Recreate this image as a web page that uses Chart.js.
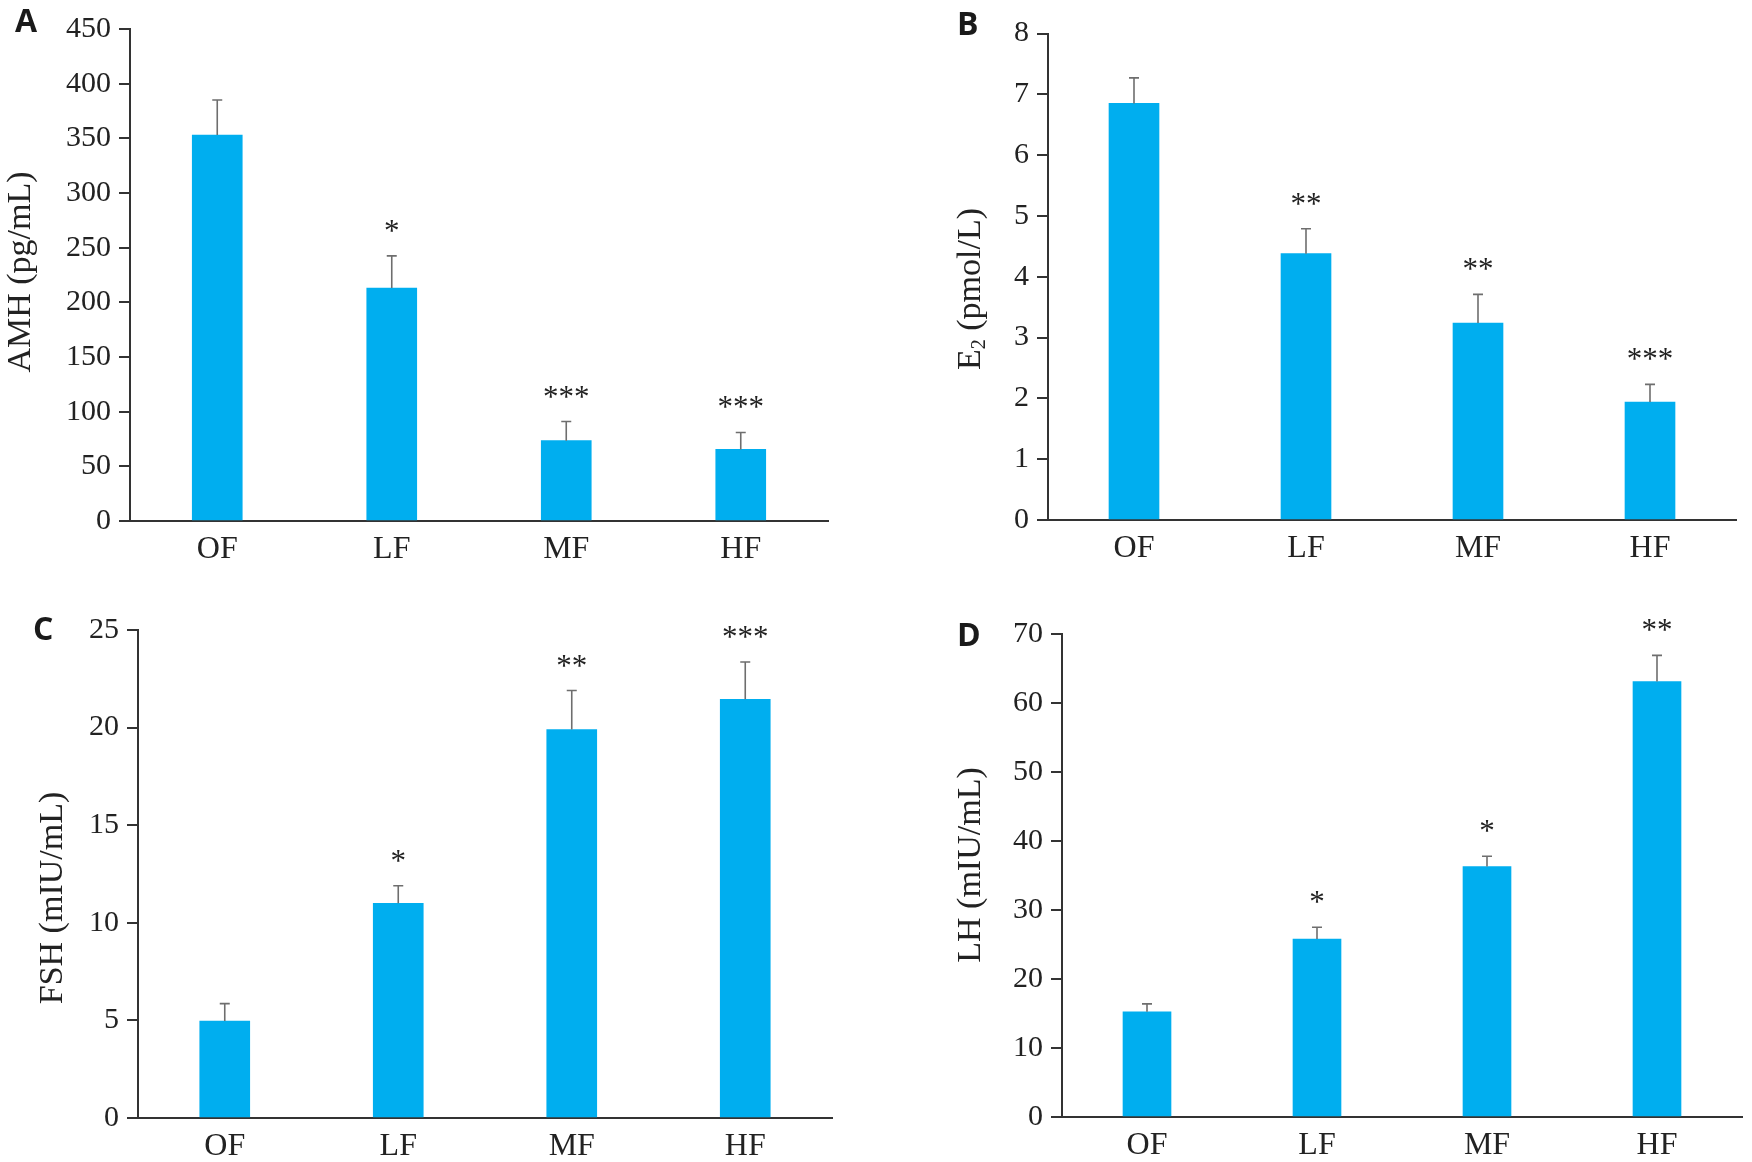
<!DOCTYPE html>
<html>
<head>
<meta charset="utf-8">
<script src="https://cdn.jsdelivr.net/npm/chart.js@4.4.1/dist/chart.umd.min.js"></script>
<style>
  body { margin: 0; background: #fff; width: 1752px; height: 1162px; position: relative; overflow: hidden; }
  .panel { position: absolute; width: 876px; height: 581px; }
  .letter { position: absolute; font-family: "Open Sans", sans-serif; font-weight: 700; font-size: 32px; line-height: 1; color: #1a1a1a; }
</style>
</head>
<body>
<div class="panel" style="left:0;top:0"><canvas id="chartA" width="876" height="581"></canvas></div>
<div class="panel" style="left:876px;top:0"><canvas id="chartB" width="876" height="581"></canvas></div>
<div class="panel" style="left:0;top:581px"><canvas id="chartC" width="876" height="581"></canvas></div>
<div class="panel" style="left:876px;top:581px"><canvas id="chartD" width="876" height="581"></canvas></div>
<div class="letter" style="left:15px;top:4px">A</div>
<div class="letter" style="left:957px;top:7px">B</div>
<div class="letter" style="left:33px;top:612px">C</div>
<div class="letter" style="left:957px;top:618px">D</div>
<script>
// Groups
const groups = ['OF', 'LF', 'MF', 'HF'];

// AMH (pg/mL)
const amhMean = [353, 213, 73.5, 65.5];
const amhUpper = [385, 242.5, 91, 81];
const amhStars = ['', '*', '***', '***'];
const amhRange = [0, 450, 50];

// E2 (pmol/L)
const e2Mean = [6.85, 4.38, 3.24, 1.94];
const e2Upper = [7.27, 4.79, 3.71, 2.23];
const e2Stars = ['', '**', '**', '***'];
const e2Range = [0, 8, 1];

// FSH (mIU/mL)
const fshMean = [4.97, 11.0, 19.9, 21.45];
const fshUpper = [5.86, 11.9, 21.9, 23.36];
const fshStars = ['', '*', '**', '***'];
const fshRange = [0, 25, 5];

// LH (mIU/mL)
const lhMean = [15.25, 25.8, 36.3, 63.1];
const lhUpper = [16.4, 27.5, 37.8, 66.9];
const lhStars = ['', '*', '*', '**'];
const lhRange = [0, 70, 10];

const SERIF = '"Liberation Serif", "Times New Roman", serif';
const BAR_COLOR = '#00AEEF';
const AXIS_COLOR = '#333333';

// upper error whiskers and significance stars
const errorBarPlugin = {
    id: 'errorBars',
    afterDatasetsDraw(chart, args, opts) {
        const ctx = chart.ctx;
        const yScale = chart.scales.y;
        const meta = chart.getDatasetMeta(0);
        ctx.save();
        meta.data.forEach((bar, i) => {
            const top = yScale.getPixelForValue(opts.upper[i]);
            ctx.strokeStyle = '#6e6e6e';
            ctx.lineWidth = 1.6;
            ctx.beginPath();
            ctx.moveTo(bar.x, bar.y);
            ctx.lineTo(bar.x, top);
            ctx.moveTo(bar.x - 5, top);
            ctx.lineTo(bar.x + 5, top);
            ctx.stroke();
            if (opts.stars[i]) {
                ctx.fillStyle = '#222';
                ctx.font = '31px ' + SERIF;
                ctx.textAlign = 'center';
                ctx.textBaseline = 'alphabetic';
                ctx.fillText(opts.stars[i], bar.x, top - 15);
            }
        });
        ctx.restore();
    }
};

// rotated y title, with optional subscript part
const yTitlePlugin = {
    id: 'yTitle',
    afterDraw(chart, args, opts) {
        const ctx = chart.ctx;
        const parts = opts.parts;
        ctx.save();
        ctx.translate(opts.x, opts.y);
        ctx.rotate(-Math.PI / 2);
        ctx.fillStyle = '#222';
        ctx.textBaseline = 'middle';
        ctx.textAlign = 'left';
        let total = 0;
        parts.forEach(p => {
            ctx.font = (p.sub ? 20 : 34) + 'px ' + SERIF;
            p.w = ctx.measureText(p.text).width;
            total += p.w;
        });
        let x = -total / 2;
        parts.forEach(p => {
            ctx.font = (p.sub ? 20 : 34) + 'px ' + SERIF;
            ctx.fillText(p.text, x, p.sub ? 9 : 0);
            x += p.w;
        });
        ctx.restore();
    }
};

function makeChart(id, mean, upper, stars, range, title, box) {
    const ctx = document.getElementById(id).getContext('2d');
    return new Chart(ctx, {
        type: 'bar',
        data: {
            labels: groups,
            datasets: [{
                data: mean,
                backgroundColor: BAR_COLOR,
                borderWidth: 0,
                barThickness: box.bar
            }]
        },
        options: {
            responsive: false,
            animation: false,
            events: [],
            layout: {
                padding: { left: 0, top: box.top, right: box.right, bottom: 0 }
            },
            plugins: {
                legend: { display: false },
                tooltip: { enabled: false },
                errorBars: { upper: upper, stars: stars },
                yTitle: { parts: title, x: box.titleX, y: box.titleY }
            },
            scales: {
                x: {
                    grid: { display: false },
                    border: { display: true, color: AXIS_COLOR, width: 2 },
                    ticks: {
                        color: '#222',
                        padding: 1,
                        font: { family: SERIF, size: 32 }
                    },
                    afterFit: s => { s.height = box.xh; }
                },
                y: {
                    min: range[0],
                    max: range[1],
                    ticks: {
                        stepSize: range[2],
                        color: '#222',
                        padding: 8,
                        font: { family: SERIF, size: 30 }
                    },
                    grid: {
                        display: true,
                        drawOnChartArea: false,
                        drawTicks: true,
                        tickLength: 11,
                        color: AXIS_COLOR,
                        lineWidth: 2
                    },
                    border: { display: true, color: AXIS_COLOR, width: 2 },
                    afterFit: s => { s.width = box.left; }
                }
            }
        },
        plugins: [errorBarPlugin, yTitlePlugin]
    });
}

makeChart('chartA', amhMean, amhUpper, amhStars, amhRange,
    [{ text: 'AMH (pg/mL)' }],
    { left: 130, right: 48, top: 29, xh: 60, bar: 50, titleX: 21, titleY: 272 });

makeChart('chartB', e2Mean, e2Upper, e2Stars, e2Range,
    [{ text: 'E' }, { text: '2', sub: true }, { text: ' (pmol/L)' }],
    { left: 172, right: 16, top: 33.5, xh: 61, bar: 50, titleX: 95, titleY: 289 });

makeChart('chartC', fshMean, fshUpper, fshStars, fshRange,
    [{ text: 'FSH (mIU/mL)' }],
    { left: 138, right: 44, top: 49, xh: 44, bar: 50, titleX: 53, titleY: 317 });

makeChart('chartD', lhMean, lhUpper, lhStars, lhRange,
    [{ text: 'LH (mIU/mL)' }],
    { left: 186, right: 10, top: 53, xh: 45, bar: 48, titleX: 95, titleY: 284 });
</script>
</body>
</html>
